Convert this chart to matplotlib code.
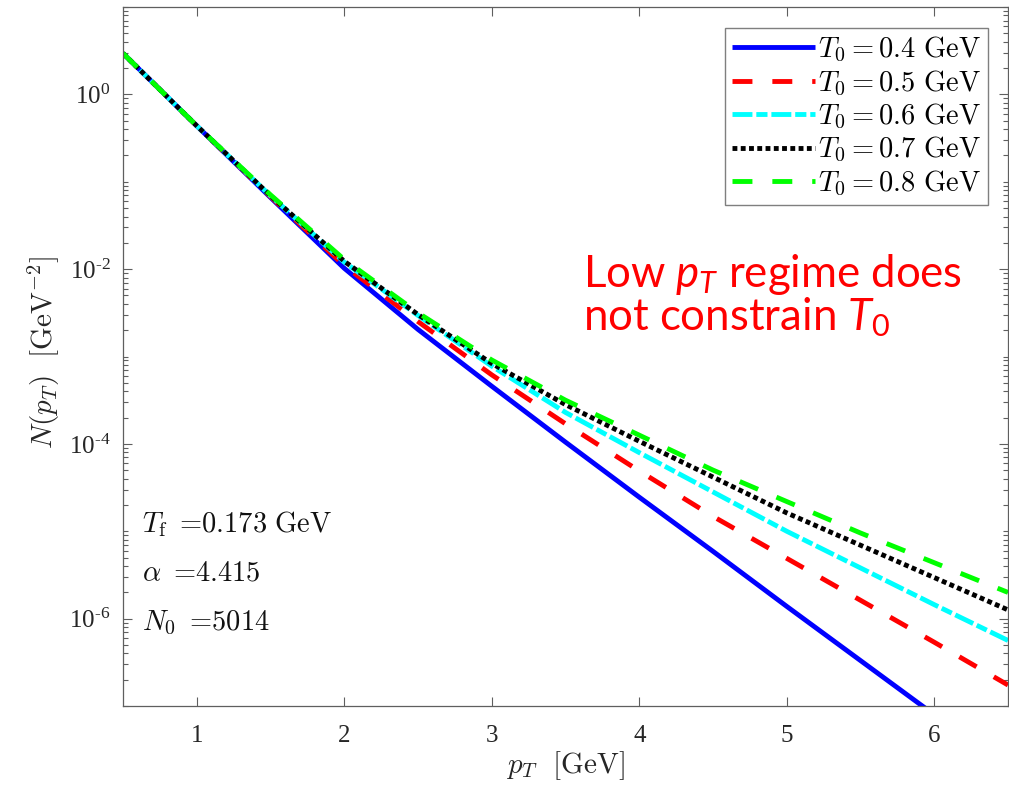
import numpy as np
import matplotlib
matplotlib.use("Agg")
import matplotlib.pyplot as plt
from matplotlib.ticker import FixedLocator, LogLocator, FuncFormatter, NullFormatter

# transverse momentum grid [GeV]
pt = [0.5, 1.0, 1.5, 2.0, 2.5, 3.0, 3.5, 4.0, 4.5, 5.0, 5.5, 6.0, 6.5]

# log10 of N(pT) for each initial temperature T0
log_n_04 = [0.47, -0.36, -1.18, -1.99, -2.69, -3.34, -3.98, -4.61, -5.23, -5.86, -6.48, -7.10, -7.72]
log_n_05 = [0.47, -0.36, -1.17, -1.96, -2.60, -3.21, -3.77, -4.31, -4.83, -5.31, -5.79, -6.27, -6.76]
log_n_06 = [0.47, -0.36, -1.16, -1.92, -2.53, -3.11, -3.64, -4.10, -4.55, -5.00, -5.42, -5.84, -6.25]
log_n_07 = [0.47, -0.36, -1.16, -1.91, -2.52, -3.08, -3.55, -3.97, -4.38, -4.79, -5.16, -5.53, -5.90]
log_n_08 = [0.47, -0.36, -1.15, -1.89, -2.50, -3.04, -3.50, -3.90, -4.30, -4.66, -5.02, -5.36, -5.70]

t0_labels = ["0.4", "0.5", "0.6", "0.7", "0.8"]
x_ticks = [1, 2, 3, 4, 5, 6]
y_ticks = [1e-6, 1e-4, 1e-2, 1e0]

plt.rcParams["font.family"] = "serif"
plt.rcParams["font.serif"] = ["Liberation Serif", "DejaVu Serif"]
plt.rcParams["mathtext.fontset"] = "cm"
plt.rcParams["mathtext.rm"] = "Lato"
plt.rcParams["mathtext.it"] = "Lato:italic"
plt.rcParams["mathtext.bf"] = "Lato:bold"

fig = plt.figure(figsize=(10.09, 7.87), dpi=100)
ax = fig.add_axes([123 / 1009, 1 - 706 / 787, 885 / 1009, 699 / 787])

lw = 3.5
styles = [
    dict(color="#0000ff", linestyle="-"),
    dict(color="#ff0000", dashes=(4.1, 4.1)),
    dict(color="#00ffff", dashes=(4.1, 0.8, 2.3, 0.8)),
    dict(color="#000000", dashes=(1.0, 0.7)),
    dict(color="#00ff00", dashes=(4.1, 4.1)),
]
series = [log_n_04, log_n_05, log_n_06, log_n_07, log_n_08]
for logs, lab, st in zip(series, t0_labels, styles):
    ax.plot(pt, 10.0 ** np.array(logs), lw=lw, solid_capstyle="butt",
            dash_capstyle="butt",
            label=r"$T_0 = %s\ \mathrm{GeV}$" % lab, **st)

ax.set_yscale("log")
ax.set_xlim(0.5, 6.5)
ax.set_ylim(1e-7, 1e1)

axis_col = "#5f5f5f"
for s in ax.spines.values():
    s.set_color(axis_col)
    s.set_linewidth(0.9)

ax.xaxis.set_major_locator(FixedLocator(x_ticks))
ax.yaxis.set_major_locator(FixedLocator(y_ticks))
ax.yaxis.set_minor_locator(LogLocator(base=10, subs=np.arange(1, 10), numticks=100))
ax.yaxis.set_minor_formatter(NullFormatter())


def exp_label(v, pos):
    e = int(round(np.log10(v)))
    s = str(e) if e >= 0 else "\u2010" + str(-e)
    return r"$\mathdefault{10^{%s}}$" % s


ax.yaxis.set_major_formatter(FuncFormatter(exp_label))
ax.tick_params(which="both", direction="in", top=True, right=True,
               color=axis_col, width=0.8, labelcolor="#262626")
ax.tick_params(which="major", length=6.5, labelsize=18)
ax.tick_params(which="minor", length=3.6)
ax.tick_params(axis="x", pad=14)
ax.tick_params(axis="y", pad=9)

ax.set_xlabel(r"$p_T\ \ [\mathrm{GeV}]$", fontsize=21, color="#262626")
ax.set_ylabel(r"$N(p_T)\ \ [\mathrm{GeV}^{-2}]$", fontsize=21, color="#262626")
ax.xaxis.set_label_coords(0.5, -0.062)
ax.yaxis.set_label_coords(-0.069, 0.506)

leg = ax.legend(loc="upper right", bbox_to_anchor=(0.977, 0.970), borderaxespad=0,
                fontsize=20.5, frameon=True, fancybox=False, framealpha=1,
                edgecolor="#7f7f7f", handlelength=2.9, handletextpad=0.1,
                labelspacing=0.15, borderpad=0.25)
leg.get_frame().set_linewidth(1.0)

# fit parameters
params = [r"T_\mathrm{f}\ =\!\!\!\;0.173\ \mathrm{GeV}", r"\alpha\ =\!\!\!\;4.415",
          r"N_0\ =\!\!\!\;5014"]
for txt, yb in zip(params, [0.249, 0.180, 0.109]):
    ax.text(0.0215, yb, "$" + txt + "$", transform=ax.transAxes, fontsize=20.5,
            va="baseline", ha="left", color="#111111")

# annotation
red_kw = dict(transform=ax.transAxes, fontsize=31.5, color="#ff0000",
              family="Lato", va="baseline", ha="left", math_fontfamily="custom")
ax.text(0.520, 0.599, r"Low $p_T$ regime does", **red_kw)
ax.text(0.520, 0.538, r"not constrain $T_0$", **red_kw)

fig.savefig("out.png", dpi=100)
